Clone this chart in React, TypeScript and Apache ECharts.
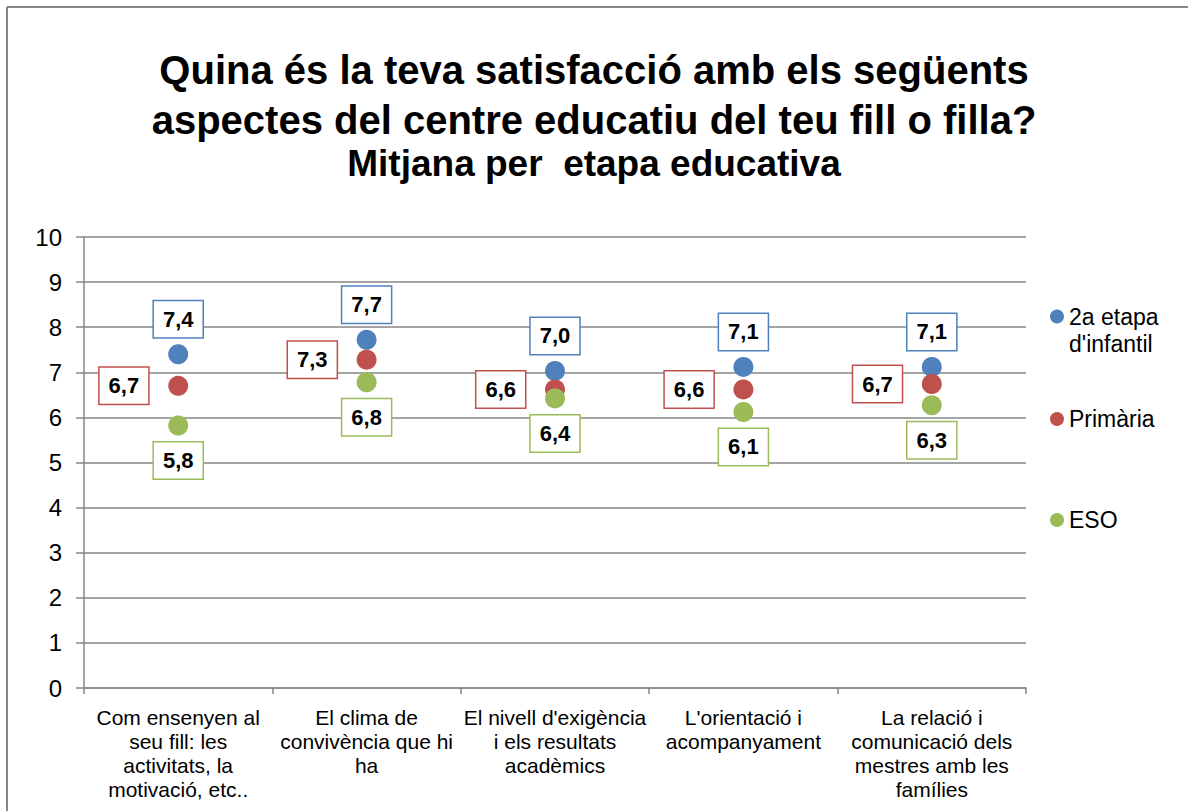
import React, { useEffect, useRef } from "react";
import * as echarts from "echarts";

const categories = [
  "Com ensenyen al\nseu fill: les\nactivitats, la\nmotivació, etc..",
  "El clima de\nconvivència que hi\nha",
  "El nivell d'exigència\ni els resultats\nacadèmics",
  "L'orientació i\nacompanyament",
  "La relació i\ncomunicació dels\nmestres amb les\nfamílies",
];

const seriesNames = ["2a etapa d'infantil", "Primària", "ESO"];
const infantil = [7.4, 7.72, 7.03, 7.12, 7.12];
const primaria = [6.7, 7.28, 6.62, 6.62, 6.74];
const eso = [5.82, 6.78, 6.42, 6.12, 6.27];

const yTicks = [0, 10, 1];
const colors = ["#4F81BD", "#C0504D", "#9BBB59"];

const titleLines = [
  "Quina és la teva satisfacció amb els següents",
  "aspectes del centre educatiu del teu fill o filla?",
];
const subtitle = "Mitjana per  etapa educativa";

const FONT = 'Arial, "Liberation Sans", sans-serif';
const GRID = "#868686";

export default function App() {
  const ref = useRef<HTMLDivElement>(null);

  useEffect(() => {
    if (!ref.current) return;
    const chart = echarts.init(ref.current, undefined, { renderer: "svg" });
    const fmt = (p: any) => Number(p.value).toFixed(1).replace(".", ",");
    const mkLabel = (pos: string, dist: number, color: string) => ({
      show: true,
      position: pos,
      distance: dist,
      formatter: fmt,
      fontFamily: FONT,
      fontSize: 22,
      fontWeight: "bold",
      color: "#000",
      lineHeight: 22,
      backgroundColor: "#fff",
      borderColor: color,
      borderWidth: 1.5,
      padding: [7, 9],
    });
    const data = [infantil, primaria, eso];
    const labelPos: [string, number][] = [
      ["top", 7],
      ["left", 20],
      ["bottom", 7],
    ];
    const legendText = {
      fontFamily: FONT,
      fontSize: 23,
      color: "#000",
      lineHeight: 27,
    };
    const legendBase = {
      left: 1050,
      padding: 0,
      icon: "circle",
      itemWidth: 14,
      itemHeight: 14,
      selectedMode: false,
      textStyle: legendText,
    };
    chart.setOption({
      animation: false,
      textStyle: { fontFamily: FONT },
      title: {
        left: "center",
        top: 45,
        padding: 0,
        itemGap: 0,
        text: titleLines.join("\n"),
        textStyle: {
          fontFamily: FONT,
          fontSize: 40,
          fontWeight: "bold",
          color: "#000",
          lineHeight: 50,
        },
        subtext: subtitle,
        subtextStyle: {
          fontFamily: FONT,
          fontSize: 37,
          fontWeight: "bold",
          color: "#000",
          lineHeight: 36,
        },
      },
      graphic: [
        {
          type: "line",
          shape: { x1: 7, y1: 7, x2: 1188, y2: 7 },
          style: { stroke: GRID, lineWidth: 2 },
        },
        {
          type: "line",
          shape: { x1: 7, y1: 7, x2: 7, y2: 811 },
          style: { stroke: GRID, lineWidth: 2 },
        },
      ],
      legend: [
        {
          ...legendBase,
          data: [seriesNames[0]],
          top: 276,
          formatter: () => "\n2a etapa\nd'infantil",
        },
        { ...legendBase, data: [seriesNames[1]], top: 405.5 },
        { ...legendBase, data: [seriesNames[2]], top: 506.5 },
      ],
      grid: { left: 84, right: 162, top: 237, bottom: 123, containLabel: false },
      xAxis: {
        type: "category",
        data: categories,
        boundaryGap: true,
        axisLine: { show: true, lineStyle: { color: GRID, width: 1.5 } },
        axisTick: { show: true, length: 6, lineStyle: { color: GRID, width: 1.5 } },
        axisLabel: {
          interval: 0,
          margin: 17,
          fontFamily: FONT,
          fontSize: 21,
          lineHeight: 24,
          color: "#000",
        },
      },
      yAxis: {
        type: "value",
        min: yTicks[0],
        max: yTicks[1],
        interval: yTicks[2],
        axisLine: { show: true, lineStyle: { color: GRID, width: 1.5 } },
        axisTick: { show: true, length: 8, lineStyle: { color: GRID, width: 1.5 } },
        splitLine: { show: true, lineStyle: { color: GRID, width: 1.5 } },
        axisLabel: {
          margin: 22,
          fontFamily: FONT,
          fontSize: 24,
          color: "#000",
        },
      },
      series: seriesNames.map((name, i) => ({
        name,
        type: "scatter",
        data: data[i],
        symbol: "circle",
        symbolSize: 20,
        itemStyle: { color: colors[i], opacity: 1 },
        label: mkLabel(labelPos[i][0], labelPos[i][1], colors[i]),
        z: 3 + i,
      })),
    });
    return () => chart.dispose();
  }, []);

  return (
    <div
      ref={ref}
      style={{ position: "absolute", left: 0, top: 0, width: 1188, height: 811, background: "#fff" }}
    />
  );
}
